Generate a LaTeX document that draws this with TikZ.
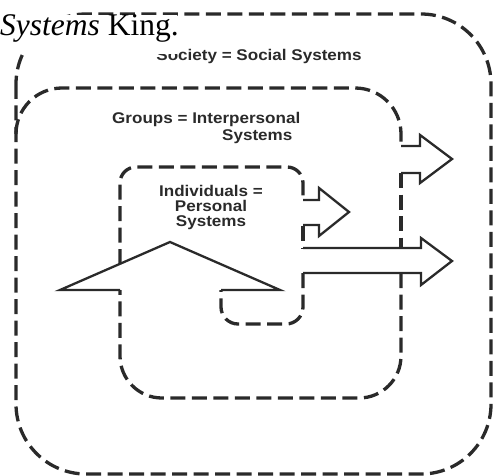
\documentclass[tikz,border=0pt]{standalone}
\usepackage{fontspec}
\setmainfont{Liberation Serif}
\newfontfamily\labfont[FakeStretch=1.1]{Liberation Sans}
\definecolor{ink}{HTML}{2A2A2A}
\begin{document}
\begin{tikzpicture}[x=1pt,y=-1pt,
  dline/.style={draw=ink,line width=3.3pt,dash pattern=on 15pt off 6.5pt},
  sline/.style={draw=ink,line width=2.3pt,line join=miter},
  lab/.style={inner sep=0pt,text=ink,font=\labfont\bfseries\fontsize{15.5}{16}\selectfont}]
\useasboundingbox (0,0) rectangle (495,476);
% outer box (society)
\draw[dline,rounded corners=70pt] (16,14) rectangle (491,474);
% group box
\draw[dline,rounded corners=46pt] (16,134) -- (16,88) -- (401,88) -- (401,146);
\draw[dline] (401,173) -- (401,248);
\draw[dline,rounded corners=42pt] (401,273) -- (401,398) -- (120,398) -- (120,290);
% individual box
\draw[dline,rounded corners=16pt] (120,264) -- (120,167) -- (303,167) -- (303,200);
\draw[dline] (303,226) -- (303,248);
\draw[dline,rounded corners=17pt] (303,273) -- (303,324) -- (221,324) -- (221,290);
% arrows
\draw[sline] (401,146) -- (420,146) -- (420,135) -- (452,159) -- (420,183) -- (420,173) -- (401,173);
\draw[sline] (303,200) -- (319,200) -- (319,188) -- (349,212) -- (319,236) -- (319,225) -- (303,225);
\draw[sline] (303,248) -- (421,248) -- (421,238) -- (452,261) -- (421,285) -- (421,273) -- (303,273);
\draw[sline] (120,290) -- (60,290) -- (170,242) -- (280,290) -- (221,290);
% labels
\node[lab,anchor=base] (soc) at (259,61) {Society = Social Systems};
\node[lab,anchor=base west] (grp1) at (112,124) {Groups = Interpersonal};
\node[lab,anchor=base west] (grp2) at (222,141) {Systems};
\node[lab,anchor=base] (ind1) at (211,196) {Individuals =};
\node[lab,anchor=base] (ind2) at (211,211) {Personal};
\node[lab,anchor=base] (ind3) at (211,226) {Systems};
% caption fragment on white
\fill[white] (0,15) rectangle (177,54);
\node[inner sep=0pt,anchor=base west,font=\fontsize{31.5}{32}\selectfont] (cap) at (0,36) {\textit{Systems} King.};
\end{tikzpicture}
\end{document}
